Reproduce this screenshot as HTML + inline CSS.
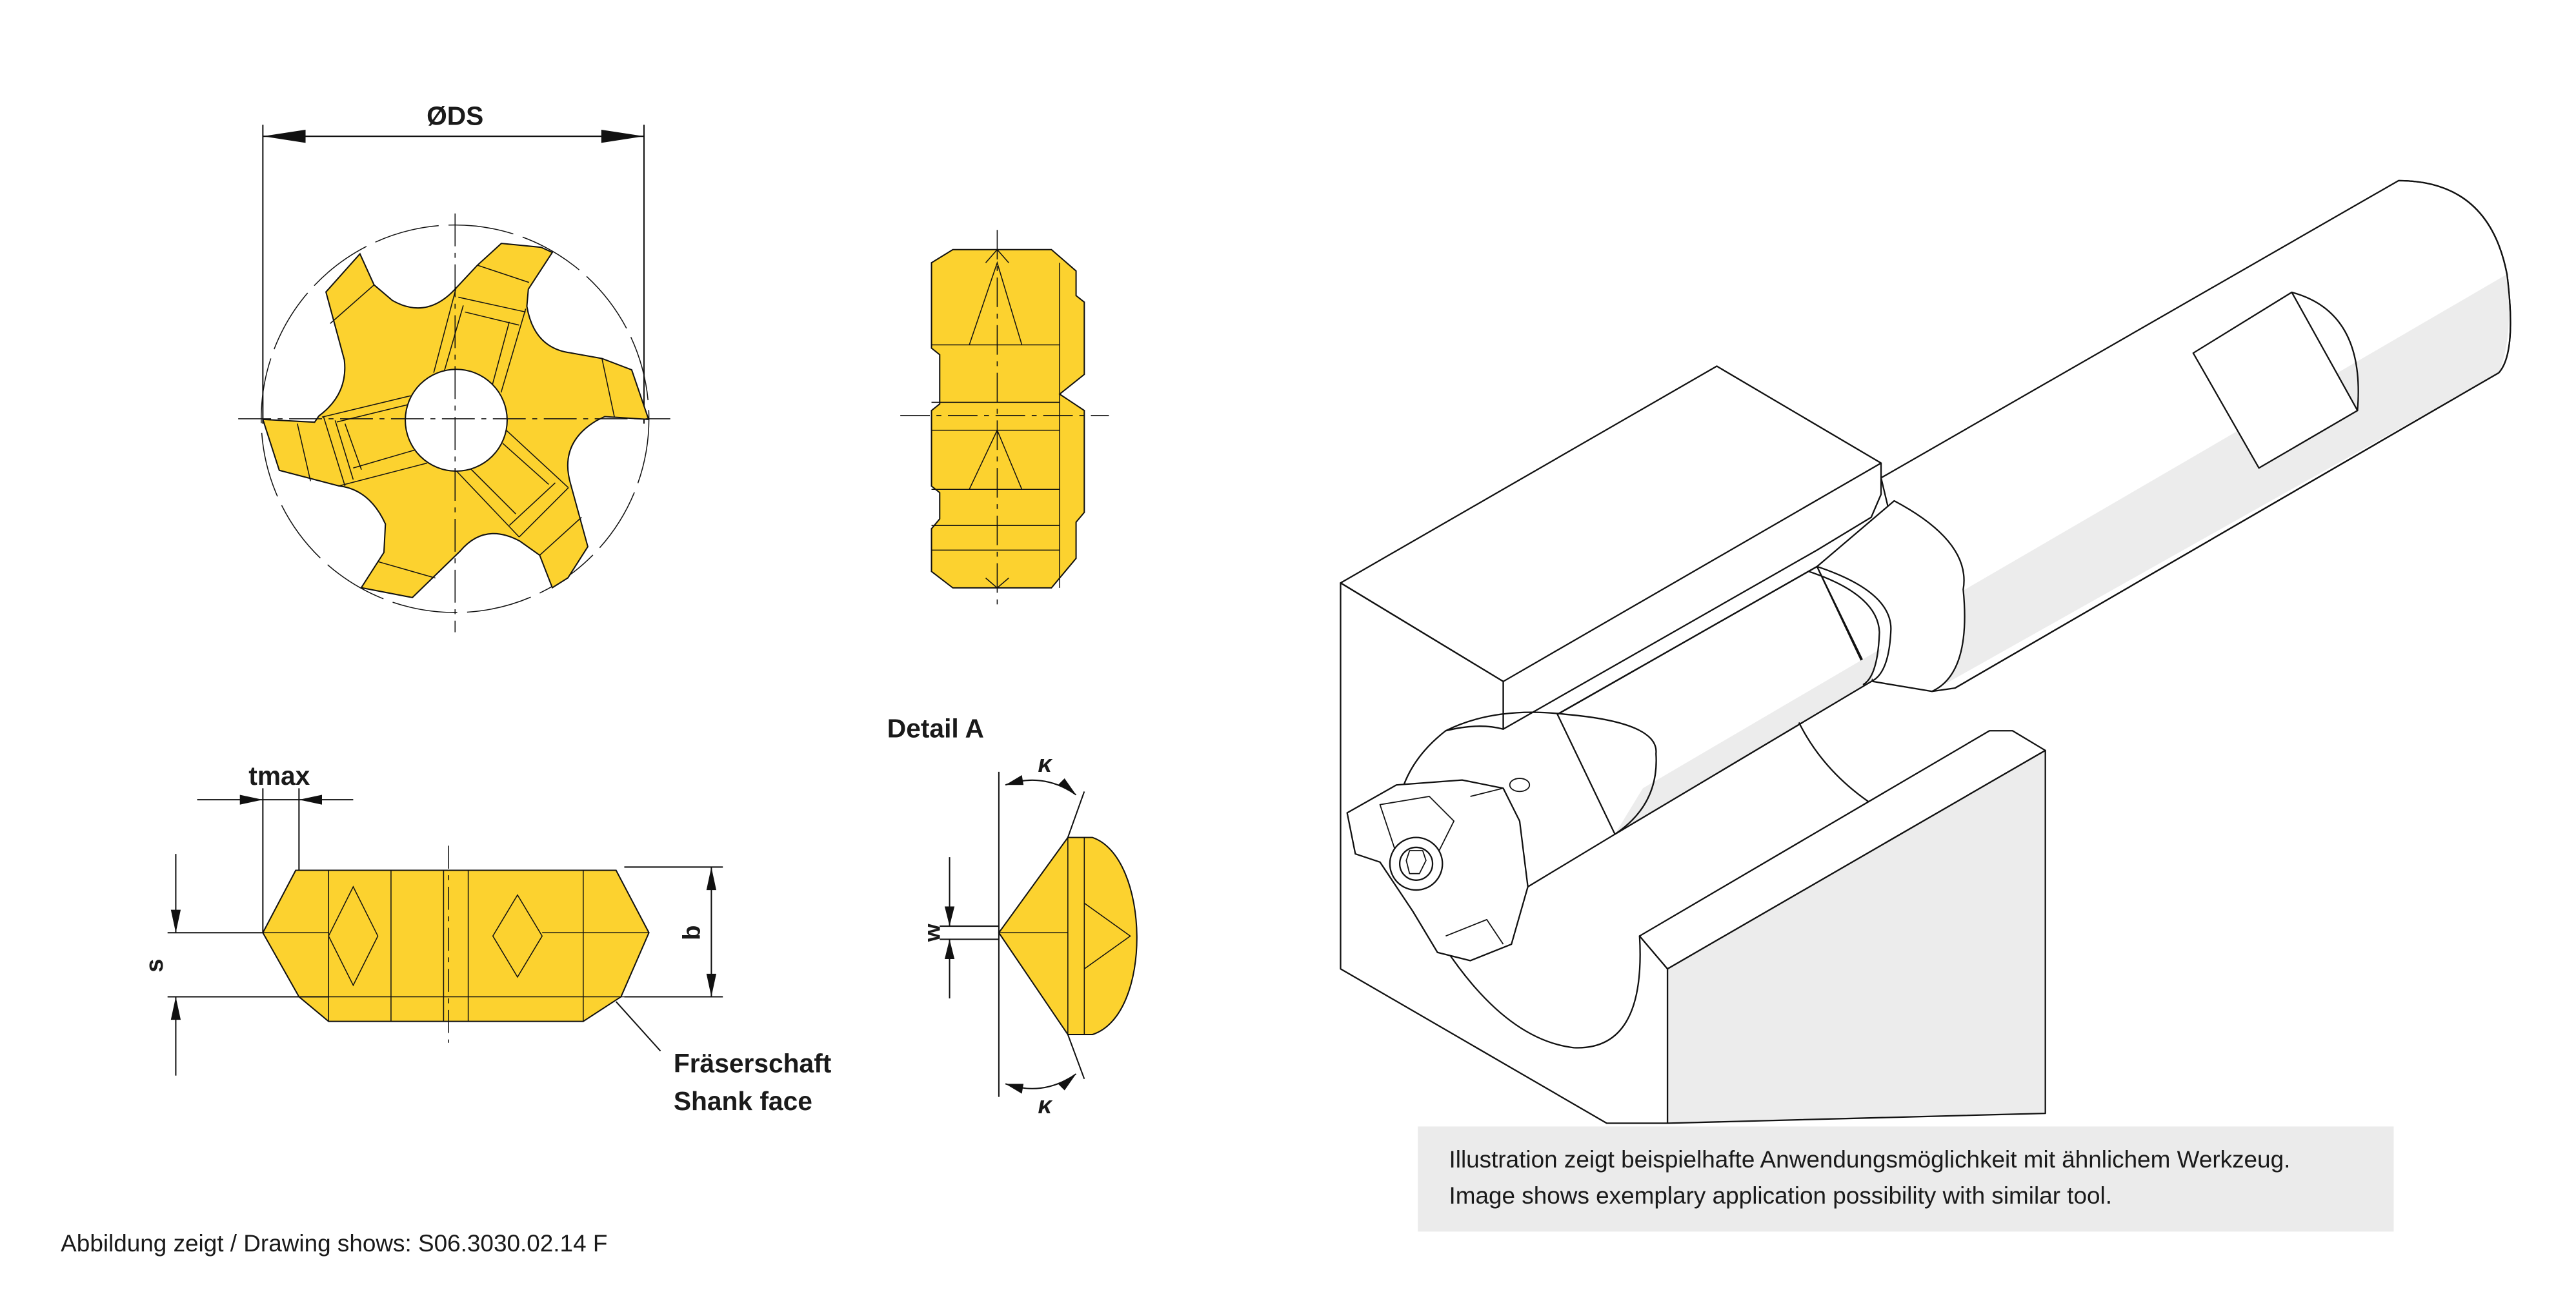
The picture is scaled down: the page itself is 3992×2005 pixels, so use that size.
<!DOCTYPE html>
<html><head><meta charset="utf-8"><style>
html,body{margin:0;padding:0;background:#fff}
svg{display:block}
text{font-family:"Liberation Sans",sans-serif;fill:#1a1a1a}
</style></head><body>
<svg width="3992" height="2005" viewBox="0 0 1568 788" preserveAspectRatio="none" xmlns="http://www.w3.org/2000/svg">
<!-- ØDS dimension -->
<g stroke="#111" stroke-width="0.8" fill="none">
<line x1="160" y1="83" x2="392" y2="83"/>
<line x1="160" y1="76" x2="160" y2="258"/>
<line x1="392" y1="76" x2="392" y2="258"/>
</g>
<polygon points="160,83 186,79 186,87" fill="#111"/>
<polygon points="392,83 366,79 366,87" fill="#111"/>
<text x="277" y="76" font-size="16" font-weight="bold" text-anchor="middle">ØDS</text>

<!-- Star cutter -->
<circle cx="277" cy="255" r="118" fill="none" stroke="#111" stroke-width="0.6" stroke-dasharray="40,6"/>
<path d="M305.2,148.2 L329.4,150.6 L336.2,153.7 L321.6,176.1 L320.7,186.5 Q325,212 347.4,214.9 L366.4,218.3 L384.5,225.2 L394.8,255.4 L368.1,253.7 L363,256.2 Q340,270 347.4,295 L357.8,332.9 L345.7,351.9 L336.2,357.9 L328.5,338.1 L316.4,329.5 Q295,318 280.2,335.5 L251,363.9 L219.9,357.9 L233.7,336.4 L234.6,319.1 Q225,298 206.2,295.9 L170,286.4 L160,255.4 L191.5,257.1 L194.1,253.3 Q212,240 209.6,219.2 L198.4,177.8 L219.1,154.6 L227.7,173.5 L238.9,183 Q260,195 277.7,175.3 L290.6,161.5 Z" fill="#fcd22f" stroke="#111" stroke-width="0.8"/>
<g stroke="#111" stroke-width="0.6" fill="none">
<!-- slots -->
<path d="M277.7,175 L264,227 M320,188 L305,239 M279,181 L320,190 M283,190 L316,198 M282,186 L269,231 M310,196 L299,237"/>
<path d="M196,254 L250,241 M206,296 L260,282 M197,254 L210,296 M204,256 L215,292 M210,258 L220,286 M205,257 L250,246 M215,285 L256,273"/>
<path d="M278,287 L316,327 M306,260 L346,297 M316,327 L346,297 M310,320 L338,294 M286,285 L314,313 M306,270 L334,295"/>
<!-- tooth bands -->
<path d="M227.7,173.5 L201,197 M290.6,161.5 L322,172 M366.4,218.3 L374,254 M328.5,338.1 L354,315 M230,342 L265,352 M181,258 L189,293"/>
</g>
<circle cx="277.7" cy="255.9" r="31" fill="#fff" stroke="#111" stroke-width="0.8"/>
<line x1="145" y1="255" x2="408" y2="255" stroke="#111" stroke-width="0.6" stroke-dasharray="20,4,3,4"/>
<line x1="277" y1="130" x2="277" y2="385" stroke="#111" stroke-width="0.6" stroke-dasharray="20,4,3,4"/>

<!-- Side view -->
<g stroke="#111" stroke-width="0.8">
<path d="M567,160 L580,152 L640,152 L655,165 L655,180 L660,184 L660,228 L645,240 L660,250 L660,312 L655,318 L655,340 L640,358 L580,358 L567,348 L567,322 L572,316 L572,300 L567,296 L567,250 L572,246 L572,216 L567,212 Z" fill="#fcd22f"/>
<g fill="none" stroke-width="0.6">
<path d="M567,210 L645,210 M567,245 L645,245 M567,262 L645,262 M567,298 L645,298 M567,320 L645,320 M567,335 L645,335"/>
<path d="M590,210 L607,160 L622,210 M590,298 L607,262 L622,298 M600,160 L607,152 L614,160 M600,352 L607,358 L614,352 M645,160 L645,358"/>
</g>
<line x1="548" y1="253" x2="675" y2="253" stroke-width="0.6" stroke-dasharray="18,4,3,4"/>
<line x1="607" y1="140" x2="607" y2="372" stroke-width="0.6" stroke-dasharray="18,4,3,4"/>
</g>

<!-- Bottom-left cutter side view -->
<g stroke="#111" stroke-width="0.8">
<path d="M160,568 L180,530 L375,530 L395,568 L378,607 L355,622 L200,622 L182,607 Z" fill="#fcd22f"/>
<g fill="none" stroke-width="0.6">
<path d="M182,607 L380,607 M200,530 L200,622 M238,530 L238,622 M270,530 L270,622 M285,530 L285,622 M355,530 L355,622"/>
<path d="M200,570 L215,540 L230,570 L215,600 Z M300,570 L315,545 L330,570 L315,595 Z"/>
<line x1="160" y1="568" x2="200" y2="568"/><line x1="330" y1="568" x2="395" y2="568"/>
</g>
<line x1="273" y1="515" x2="273" y2="635" stroke-width="0.6" stroke-dasharray="14,4,3,4"/>
<g fill="none" stroke-width="0.8">
<line x1="107" y1="520" x2="107" y2="568"/>
<line x1="107" y1="655" x2="107" y2="607"/>
<line x1="102" y1="568" x2="160" y2="568"/>
<line x1="102" y1="607" x2="200" y2="607"/>
<line x1="380" y1="528" x2="440" y2="528"/>
<line x1="380" y1="607" x2="440" y2="607"/>
<line x1="433" y1="528" x2="433" y2="607"/>
<line x1="160" y1="480" x2="160" y2="568"/>
<line x1="182" y1="480" x2="182" y2="530"/>
<line x1="120" y1="487" x2="215" y2="487"/>
<line x1="375" y1="610" x2="402" y2="640"/>
</g>
</g>
<g fill="#111">
<polygon points="107,568 104,554 110,554"/>
<polygon points="107,607 104,621 110,621"/>
<polygon points="433,528 430,542 436,542"/>
<polygon points="433,607 430,593 436,593"/>
<polygon points="160,487 146,484 146,490"/>
<polygon points="182,487 196,484 196,490"/>
</g>
<text x="170" y="478" font-size="16" font-weight="bold" text-anchor="middle">tmax</text>
<text x="99" y="588" font-size="15" font-weight="bold" transform="rotate(-90 99 588)" text-anchor="middle">s</text>
<text x="426" y="568" font-size="15" font-weight="bold" transform="rotate(-90 426 568)" text-anchor="middle">b</text>
<text x="410" y="653" font-size="16" font-weight="bold">Fräserschaft</text>
<text x="410" y="676" font-size="16" font-weight="bold">Shank face</text>

<!-- Detail A -->
<text x="540" y="449" font-size="16" font-weight="bold">Detail A</text>
<g stroke="#111" stroke-width="0.8">
<path d="M608,568 L650,510 L665,510 C700,522 702,618 665,630 L650,630 Z" fill="#fcd22f"/>
<g fill="none" stroke-width="0.6">
<path d="M650,510 L650,630 M660,510 L660,630 M608,568 L650,568 M660,550 L688,570 L660,590"/>
</g>
<g fill="none" stroke-width="0.8">
<line x1="608" y1="470" x2="608" y2="668"/>
<line x1="650" y1="510" x2="660" y2="482"/>
<line x1="650" y1="630" x2="660" y2="657"/>
<path d="M612,478 Q635,470 655,484"/>
<path d="M612,660 Q635,668 655,654"/>
<line x1="578" y1="522" x2="578" y2="564"/>
<line x1="578" y1="608" x2="578" y2="572"/>
<line x1="572" y1="564" x2="608" y2="564"/>
<line x1="572" y1="572" x2="608" y2="572"/>
</g>
</g>
<g fill="#111">
<polygon points="578,564 575,552 581,552"/>
<polygon points="578,572 575,584 581,584"/>
<polygon points="612,478 622,472 623,478"/>
<polygon points="655,484 644,478 648,474"/>
<polygon points="612,660 622,666 623,660"/>
<polygon points="655,654 644,660 648,664"/>
</g>
<text x="636" y="470" font-size="15" font-weight="bold" font-style="italic" text-anchor="middle">κ</text>
<text x="636" y="678" font-size="15" font-weight="bold" font-style="italic" text-anchor="middle">κ</text>
<text x="572" y="568" font-size="14" font-weight="bold" transform="rotate(-90 572 568)" text-anchor="middle">w</text>

<!-- 3D illustration -->
<g stroke="#111" stroke-width="0.9" stroke-linejoin="round">
<path d="M1145,291 L1460,110 Q1515,110 1526,167 Q1532,215 1521,227 L1190,419 L1176,421 Z" fill="#fff"/>
<path d="M1176,421 L1521,227 Q1530,205 1526,167 L1160,380 Z" fill="#ececec" stroke="none"/>
<path d="M1460,110 Q1515,110 1526,167 Q1532,215 1521,227" fill="none"/>
<line x1="1190" y1="419" x2="1521" y2="227"/>
<path d="M1335,215 L1395,178 L1435,250 L1375,285 Z" fill="#fff"/>
<path d="M1395,178 Q1440,190 1435,250" fill="none"/>
<path d="M1153,305 Q1200,330 1195,359 Q1200,410 1176,421 L1140,415 L1106,345 Z" fill="#fff"/>
<path d="M1106,345 L948,435 L983,508 L1139,415 Z" fill="#fff"/>
<path d="M1000,480 L1145,395 L1139,415 L983,508 Z" fill="#ececec" stroke="none"/>
<line x1="1106" y1="345" x2="948" y2="435"/>
<line x1="1139" y1="415" x2="983" y2="508"/>
<path d="M1106,345 Q1151,360 1151,383 Q1150,410 1139,415" fill="none"/>
<path d="M1101,348 Q1143,362 1144,385 Q1143,412 1134,417" fill="none"/>
<!-- left block top -->
<path d="M816,355 L1045,223 L1145,282 L1145,301 L1139,315 L1106,335 L915,444 L915,415 Z" fill="#fff"/>
<path d="M816,355 L915,415 L1145,282" fill="none"/>
<!-- left block front -->
<path d="M915,444 L915,415 L816,355 L816,590 L978,684 L1015,684 L1015,590 L998,570 Q1002,640 958,638 Q905,632 858,540 Q835,480 880,445 Q900,440 915,444 Z" fill="#fff"/>
<path d="M880,445 Q910,430 953,435 Q1010,440 1008,459 Q1010,490 983,508 L930,540" fill="none"/>
<path d="M1095,440 Q1110,470 1140,490" fill="none"/>
<!-- right block -->
<path d="M998,570 L1211,445 L1225,445 L1245,457 L1015,590 Z" fill="#fff"/>
<path d="M1015,590 L1245,457 L1245,678 L1015,684 Z" fill="#ececec"/>
<!-- cutter head -->
<path d="M820,495 L850,478 L890,475 L915,480 L925,500 L930,540 L920,575 L895,585 L875,580 L860,555 L840,525 L825,520 Z" fill="#fff"/>
<path d="M840,490 L870,485 L885,500 L875,520 L850,520 Z M895,485 L915,480 M880,570 L905,560 L915,575" fill="none" stroke-width="0.7"/>
<circle cx="862" cy="526" r="16" fill="#fff"/>
<circle cx="862" cy="526" r="10" fill="#fff"/>
<path d="M858,518 L866,518 L868,524 L864,532 L858,532 L856,524 Z" fill="#fff" stroke-width="0.7"/>
<ellipse cx="925" cy="478" rx="6" ry="4" fill="#fff" stroke-width="0.7"/>
</g>

<rect x="863" y="686" width="594" height="64" fill="#ebebeb"/>
<text x="882" y="711" font-size="14.5" fill="#222">Illustration zeigt beispielhafte Anwendungsmöglichkeit mit ähnlichem Werkzeug.</text>
<text x="882" y="733" font-size="14.5" fill="#222">Image shows exemplary application possibility with similar tool.</text>

<text x="37" y="762" font-size="14.5" fill="#222">Abbildung zeigt / Drawing shows: S06.3030.02.14 F</text>
</svg>
</body></html>
